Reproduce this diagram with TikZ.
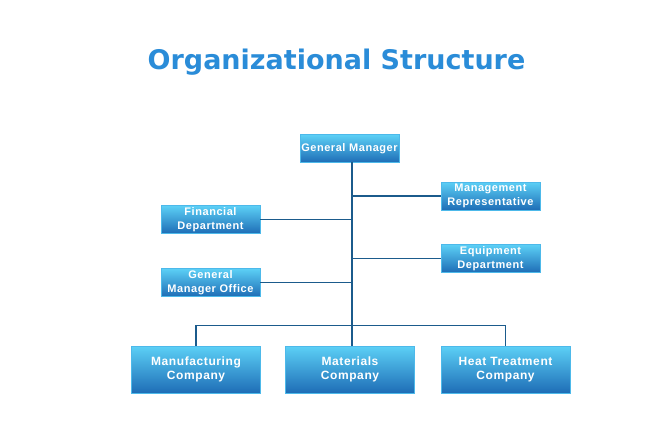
\documentclass[tikz,border=0pt]{standalone}
\usepackage{fontspec}
\setsansfont{Liberation Sans}
\newfontfamily\boxfont[LetterSpace=5]{Liberation Sans}
\newfontfamily\titlefont{DejaVu Sans}
\usepackage{tikz}
\definecolor{boxtop}{HTML}{5CD0F6}
\definecolor{boxbot}{HTML}{1E6DB6}
\definecolor{boxline}{HTML}{4DB9EA}
\definecolor{linkblue}{HTML}{1B5B8C}
\definecolor{titleblue}{HTML}{2A8CD8}

\begin{document}
\begin{tikzpicture}[x=1pt,y=-1pt,
		unit/.style={draw=boxline,top color=boxtop,bottom color=boxbot,text=white,
			font=\boxfont\bfseries\fontsize{11}{14}\selectfont,align=center,inner sep=0pt,
			minimum width=99pt,minimum height=28pt},
		company/.style={unit,font=\boxfont\bfseries\fontsize{12}{14.5}\selectfont,
			minimum width=129pt,minimum height=47pt},
		link/.style={draw=linkblue,line width=1.3pt}]
		\useasboundingbox (0,0) rectangle (670,434);
		\node[text=titleblue,font=\titlefont\bfseries\fontsize{27}{30}\selectfont] (title) at (336.5,62) {Organizational Structure};
		\node[unit] (gm) at (349.5,148.5) {General Manager};
		\node[unit] (mrep) at (490.5,196) {Management\\Representative};
		\node[unit] (fin) at (210.5,219.5) {Financial\\Department};
		\node[unit] (equip) at (490.5,258.5) {Equipment\\Department};
		\node[unit] (gmo) at (210.5,282.5) {General\\Manager Office};
		\node[company] (mfg) at (196,369.5) {Manufacturing\\Company};
		\node[company] (mat) at (350,369.5) {Materials\\Company};
		\node[company] (heat) at (505.5,369.5) {Heat Treatment\\Company};
		\coordinate (top) at (352,162);
		\coordinate (bus) at (352,325.5);
		\draw[link] (top) -- (bus);
		\foreach \n in {mrep,equip} {
		\draw[link] (\n.west) -- (\n.west -| bus);
		}
		\foreach \n in {fin,gmo} {
		\draw[link] (\n.east) -- (\n.east -| bus);
		}
		\draw[link] (mfg.north) |- (bus) -| (heat.north);
		\draw[link] (bus) -- (bus |- mat.north);
	\end{tikzpicture}
\end{document}
